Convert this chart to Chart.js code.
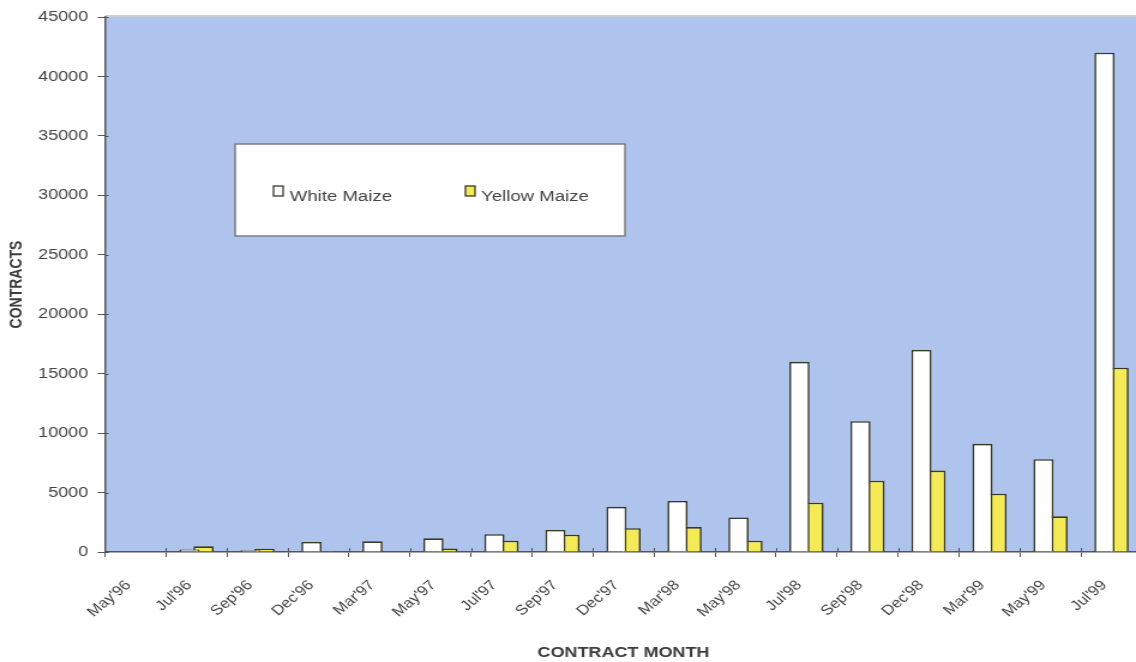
<!DOCTYPE html>
<html>
<head>
<meta charset="utf-8">
<script src="https://cdn.jsdelivr.net/npm/chart.js@4/dist/chart.umd.min.js"></script>
<style>
  html, body { margin: 0; padding: 0; background: #ffffff; overflow: hidden; width: 1136px; height: 662px; }
  /* the chart is laid out on a narrower canvas and widened, which gives the wide lettering and 40-degree month labels;
     the plot runs a few pixels past the right edge of the page */
  #wrap { width: 952px; height: 662px; transform: scaleX(1.19958); transform-origin: 0 0; }
  canvas { display: block; }
</style>
</head>
<body>
<div id="wrap"><canvas id="c" width="952" height="662"></canvas></div>
<script>
// Contract months on the category axis
const categories = ["May'96", "Jul'96", "Sep'96", "Dec'96", "Mar'97", "May'97", "Jul'97", "Sep'97",
  "Dec'97", "Mar'98", "May'98", "Jul'98", "Sep'98", "Dec'98", "Mar'99", "May'99", "Jul'99"];

// Contracts traded per contract month
const whiteMaize  = [0, 200, 150, 850, 900, 1150, 1500, 1850, 3800, 4300, 2900, 16000, 11000, 17000, 9100, 7800, 42000];
const yellowMaize = [0, 480, 280, 20, 0, 300, 950, 1450, 2000, 2100, 950, 4150, 6000, 6850, 4900, 3000, 15500];

// Value axis
const yMin = 0, yMax = 45000, yStep = 5000;

const FONT = '"Liberation Sans", Arial, Helvetica, sans-serif';
const EDGE = '#3a3822';
const AXIS = '#555555';
const TEXT = '#444444';

// Blue plot area and its top frame line
const plotBackground = {
  id: 'plotBackground',
  beforeDraw(chart) {
    const { ctx, chartArea: a } = chart;
    ctx.save();
    ctx.fillStyle = '#aec4ec';
    ctx.fillRect(a.left, a.top, a.right - a.left, a.bottom - a.top);
    ctx.strokeStyle = '#9aa0a8';
    ctx.lineWidth = 1.2;
    ctx.beginPath();
    ctx.moveTo(a.left, a.top - 1);
    ctx.lineTo(a.right, a.top - 1);
    ctx.stroke();
    ctx.restore();
  }
};

// Tick marks that cross the axis lines (the inner half of each mark)
const crossTicks = {
  id: 'crossTicks',
  afterDraw(chart) {
    const { ctx, chartArea: a, scales } = chart;
    ctx.save();
    ctx.strokeStyle = AXIS;
    ctx.lineWidth = 1;
    ctx.beginPath();
    scales.y.ticks.forEach(t => {
      const py = Math.round(scales.y.getPixelForValue(t.value)) + 0.5;
      ctx.moveTo(a.left, py);
      ctx.lineTo(a.left + 3, py);
    });
    const n = categories.length;
    for (let i = 1; i < n; i++) {
      const px = Math.round((scales.x.getPixelForValue(i) + scales.x.getPixelForValue(i - 1)) / 2) + 0.5;
      ctx.moveTo(px, a.bottom);
      ctx.lineTo(px, a.bottom - 4);
    }
    ctx.stroke();
    ctx.restore();
  }
};

// Boxed legend placed inside the plot area
const legendBox = {
  id: 'legendBox',
  afterDatasetsDraw(chart) {
    const ctx = chart.ctx;
    ctx.save();
    const x = 196, y = 144, w = 325, h = 92;
    ctx.fillStyle = '#ffffff';
    ctx.fillRect(x, y, w, h);
    ctx.strokeStyle = '#7c7c7c';
    ctx.lineWidth = 1.5;
    ctx.strokeRect(x, y, w, h);
    const slots = [{ sx: 228, tx: 241.5 }, { sx: 388, tx: 401 }];
    chart.data.datasets.forEach((ds, i) => {
      const s = slots[i];
      ctx.fillStyle = ds.backgroundColor;
      ctx.fillRect(s.sx, 186, 8, 10);
      ctx.strokeStyle = EDGE;
      ctx.lineWidth = 1.3;
      ctx.strokeRect(s.sx, 186, 8, 10);
      ctx.fillStyle = TEXT;
      ctx.font = '15.5px ' + FONT;
      ctx.textBaseline = 'alphabetic';
      ctx.textAlign = 'left';
      ctx.fillText(ds.label, s.tx, 200.5);
    });
    ctx.restore();
  }
};

new Chart(document.getElementById('c'), {
  type: 'bar',
  data: {
    labels: categories,
    datasets: [
      { label: 'White Maize', data: whiteMaize, backgroundColor: '#ffffff',
        borderColor: EDGE, borderWidth: 1.6 },
      { label: 'Yellow Maize', data: yellowMaize, backgroundColor: '#f3ea55',
        borderColor: EDGE, borderWidth: 1.6 }
    ]
  },
  options: {
    responsive: false,
    animation: false,
    layout: { padding: { top: 14, left: 0, right: 0, bottom: 0 } },
    datasets: { bar: { categoryPercentage: 0.462, barPercentage: 1.43 } },
    plugins: { legend: { display: false }, tooltip: { enabled: false } },
    scales: {
      x: {
        offset: true,
        grid: { display: true, drawOnChartArea: false, offset: true, tickLength: 5, color: AXIS, lineWidth: 1 },
        border: { display: true, color: AXIS, width: 1.5 },
        ticks: { autoSkip: false, minRotation: 45, maxRotation: 45, padding: 20, labelOffset: -6,
          color: TEXT, font: { family: FONT, size: 14 } },
        title: { display: true, text: 'CONTRACT MONTH', color: '#3c3c3c',
          font: { family: FONT, size: 15, weight: 'bold' }, padding: { top: 4, bottom: 0 } },
        afterFit(scale) {
          scale.height = 110;
          scale.paddingLeft = 0;
          scale.paddingRight = 0;
        }
      },
      y: {
        min: yMin, max: yMax,
        grid: { display: true, drawOnChartArea: false, tickLength: 6, color: AXIS, lineWidth: 1 },
        border: { display: true, color: AXIS, width: 1.5 },
        ticks: { stepSize: yStep, padding: 8, color: TEXT, font: { family: FONT, size: 15 },
          callback: v => String(v) },
        title: { display: true, text: 'CONTRACTS', color: '#3c3c3c',
          font: { family: FONT, size: 14, weight: 'bold' }, padding: { top: 6, bottom: 4 } },
        afterFit(scale) { scale.width = 87.5; }
      }
    }
  },
  plugins: [plotBackground, legendBox, crossTicks]
});
</script>
</body>
</html>
